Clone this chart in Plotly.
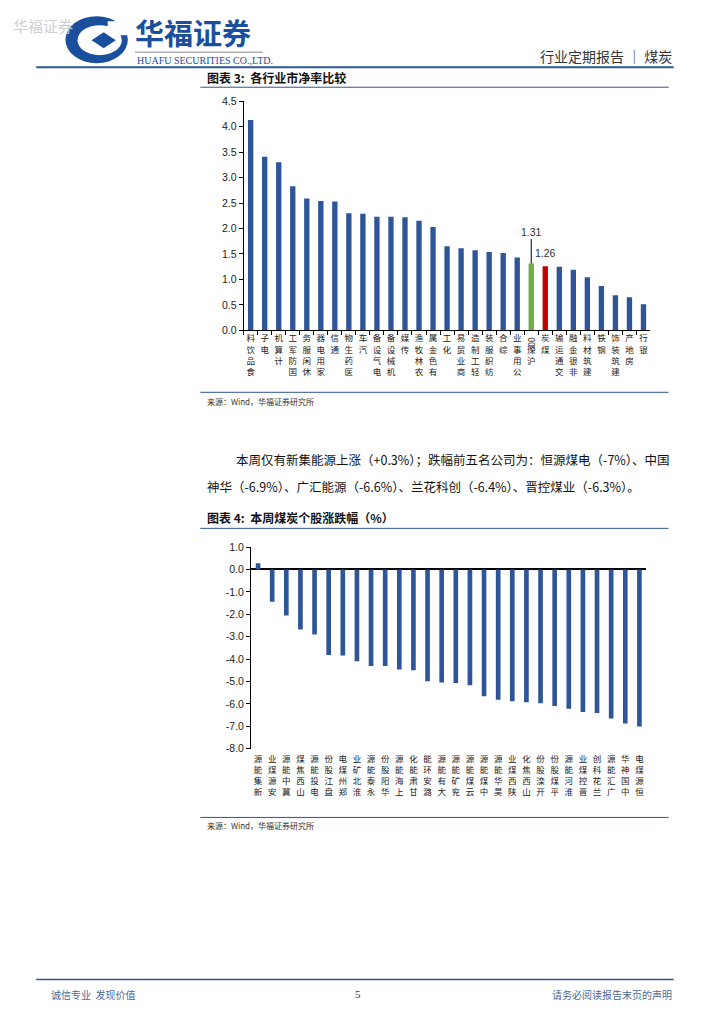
import plotly.graph_objects as go

# ---------------- data ----------------
industries = ["食品饮料", "电子", "计算机", "国防军工", "休闲服务", "家用电器", "通信", "医药生物",
              "汽车", "电气设备", "机械设备", "传媒", "农林牧渔", "有色金属", "化工", "商业贸易",
              "轻工制造", "纺织服装", "综合", "公用事业", "沪深300", "煤炭", "交通运输", "非银金融",
              "建筑材料", "钢铁", "建筑装饰", "房地产", "银行"]
pb_values = [4.13, 3.41, 3.30, 2.83, 2.59, 2.54, 2.53, 2.30, 2.29, 2.23, 2.23, 2.22, 2.15, 2.03,
             1.65, 1.61, 1.57, 1.54, 1.52, 1.43, 1.31, 1.26, 1.25, 1.19, 1.04, 0.87, 0.69, 0.65, 0.51]

stocks = ["新集能源", "安源煤业", "冀中能源", "山西焦煤", "电投能源", "盘江股份", "郑州煤电", "淮北矿业",
          "永泰能源", "华阳股份", "上海能源", "甘肃能化", "潞安环能", "大有能源", "兖矿能源", "云煤能源",
          "中煤能源", "昊华能源", "陕西煤业", "山西焦化", "开滦股份", "平煤股份", "淮河能源", "晋控煤业",
          "兰花科创", "广汇能源", "中国神华", "恒源煤电"]
chg_values = [0.28, -1.44, -2.06, -2.68, -2.90, -3.82, -3.84, -4.10, -4.31, -4.31, -4.46, -4.50,
              -4.99, -5.04, -5.07, -5.17, -5.66, -5.81, -5.88, -5.93, -5.97, -6.09, -6.22, -6.36,
              -6.41, -6.65, -6.87, -7.01]

y1_ticks = [0.0, 0.5, 1.0, 1.5, 2.0, 2.5, 3.0, 3.5, 4.0, 4.5]
y2_ticks = [1.0, 0.0, -1.0, -2.0, -3.0, -4.0, -5.0, -6.0, -7.0, -8.0]

hs300_name = "沪深300"
coal_name = "煤炭"

# ---------------- helpers ----------------
W, H = 724, 1024
# compensate for page offset / scaling observed in the rendered page
def px(x):
    return ((x - 9) / 0.993) / W
def py(y):
    return 1 - ((y - 14.8) / 0.988) / H

BLUE = "#2E5597"
CJK = "Noto Sans CJK SC"
LAT = "Liberation Sans, Arial"

def vertical(name):
    if name == hs300_name:
        return "\u3000<br>深<br>沪"
    return "<br>".join(list(name)[::-1])

colors1 = []
for n in industries:
    if n == hs300_name:
        colors1.append("#70AD47")
    elif n == coal_name:
        colors1.append("#C00000")
    else:
        colors1.append(BLUE)

fig = go.Figure()
fig.add_trace(go.Bar(x=industries, y=pb_values, marker=dict(color=colors1, line=dict(width=0)),
                     width=0.38, xaxis="x", yaxis="y", showlegend=False))
fig.add_trace(go.Bar(x=stocks, y=chg_values, marker=dict(color=BLUE, line=dict(width=0)),
                     width=0.33, xaxis="x2", yaxis="y2", showlegend=False))

fig.update_layout(
    width=W, height=H, margin=dict(l=0, r=0, t=0, b=0),
    paper_bgcolor="white", plot_bgcolor="white",
    font=dict(family=CJK, color="#222"),
    xaxis=dict(domain=[px(243), px(647)], anchor="y", type="category",
               range=[-0.5, len(industries) - 0.5],
               tickvals=industries, ticktext=[vertical(n) for n in industries],
               tickangle=0, tickfont=dict(family=CJK, size=8.5, color="#222"),
               showline=True, linecolor="#000", linewidth=1,
               ticks="outside", tickson="boundaries", ticklen=4, tickcolor="#000",
               showgrid=False, zeroline=False, fixedrange=True),
    yaxis=dict(domain=[py(331), py(102)], anchor="x", range=[0, 4.5],
               tickvals=y1_ticks, ticktext=[f"{v:.1f}" for v in y1_ticks],
               tickfont=dict(family=LAT, size=10.5, color="#222"),
               showline=True, linecolor="#000", linewidth=1,
               ticks="outside", ticklen=4, tickcolor="#000",
               showgrid=False, zeroline=False),
    xaxis2=dict(domain=[px(250.3), px(643)], anchor="y2", type="category",
                range=[-0.5, len(stocks) - 0.5],
                tickvals=stocks, ticktext=[vertical(n) for n in stocks],
                tickangle=0, tickfont=dict(family=CJK, size=8.5, color="#222"),
                ticklabelstandoff=4,
                showline=False, ticks="", showgrid=False, zeroline=False),
    yaxis2=dict(domain=[py(749.3), py(547.7)], anchor="x2", range=[-8, 1],
                tickvals=y2_ticks, ticktext=[f"{v:.1f}" for v in y2_ticks],
                tickfont=dict(family=LAT, size=10.5, color="#222"),
                showline=True, linecolor="#000", linewidth=1,
                ticks="outside", ticklen=4, tickcolor="#000",
                showgrid=False, zeroline=True, zerolinecolor="#000", zerolinewidth=1.5),
)

shapes = []
ann = []

# header line and section lines
shapes.append(dict(type="line", xref="paper", yref="paper", x0=px(37), x1=px(670), y0=py(68), y1=py(68),
                   line=dict(color=BLUE, width=2)))
for yy in [88, 393, 529, 818]:
    shapes.append(dict(type="line", xref="paper", yref="paper", x0=px(200), x1=px(665), y0=py(yy), y1=py(yy),
                       line=dict(color=BLUE, width=1)))
# footer line
shapes.append(dict(type="line", xref="paper", yref="paper", x0=px(37), x1=px(670), y0=py(980), y1=py(980),
                   line=dict(color=BLUE, width=1.5)))
# logo underline
shapes.append(dict(type="line", xref="paper", yref="paper", x0=px(135), x1=px(262), y0=py(53), y1=py(53),
                   line=dict(color="#8a8a8a", width=1)))

# watermark
ann.append(dict(text="华福证券", x=px(12), y=py(26), xref="paper", yref="paper", xanchor="left", yanchor="middle",
                showarrow=False, font=dict(family=CJK, size=15, color="#cfcfcf")))

# logo
shapes.append(dict(type="circle", xref="paper", yref="paper", x0=px(66), x1=px(128), y0=py(64), y1=py(17),
                   fillcolor="#1A4F9E", line=dict(width=0), layer="above"))
shapes.append(dict(type="circle", xref="paper", yref="paper", x0=px(78), x1=px(122), y0=py(56), y1=py(26),
                   fillcolor="white", line=dict(width=0), layer="above"))
shapes.append(dict(type="path", xref="paper", yref="paper", layer="above",
                   path=f"M {px(92)},{py(41)} L {px(104)},{py(33)} L {px(116)},{py(41)} L {px(104)},{py(49)} Z",
                   fillcolor="#1A4F9E", line=dict(width=0)))
shapes.append(dict(type="rect", xref="paper", yref="paper", x0=px(108), x1=px(128), y0=py(36), y1=py(22),
                   fillcolor="white", line=dict(width=0), layer="above"))

ann.append(dict(text="<b>华福证券</b>", x=px(133), y=py(33), xref="paper", yref="paper", xanchor="left",
                yanchor="middle", showarrow=False, font=dict(family=CJK, size=29, color="#1A4F9E")))
ann.append(dict(text="HUAFU SECURITIES CO.,LTD.", x=px(135), y=py(61), xref="paper", yref="paper",
                xanchor="left", yanchor="middle", showarrow=False,
                font=dict(family="Liberation Serif, serif", size=10, color="#1A4F9E")))
ann.append(dict(text="行业定期报告 ｜ 煤炭", x=px(670), y=py(57), xref="paper", yref="paper", xanchor="right",
                yanchor="middle", showarrow=False, font=dict(family=CJK, size=14, color="#333")))

# chart titles
ann.append(dict(text="<b>图表 3:  各行业市净率比较</b>", x=px(205), y=py(78), xref="paper", yref="paper",
                xanchor="left", yanchor="middle", showarrow=False, font=dict(family=CJK, size=12, color="#111")))
ann.append(dict(text="<b>图表 4:  本周煤炭个股涨跌幅（%）</b>", x=px(205), y=py(518), xref="paper", yref="paper",
                xanchor="left", yanchor="middle", showarrow=False, font=dict(family=CJK, size=12, color="#111")))

# sources
for yy in [402, 826]:
    ann.append(dict(text="来源：Wind，华福证券研究所", x=px(205), y=py(yy), xref="paper", yref="paper",
                    xanchor="left", yanchor="middle", showarrow=False, font=dict(family=CJK, size=8, color="#333")))

# paragraph
ann.append(dict(text="本周仅有新集能源上涨（+0.3%）；跌幅前五名公司为：恒源煤电（-7%）、中国",
                x=px(233), y=py(460), xref="paper", yref="paper", xanchor="left", yanchor="middle",
                showarrow=False, font=dict(family=CJK, size=12.5, color="#111")))
ann.append(dict(text="神华（-6.9%）、广汇能源（-6.6%）、兰花科创（-6.4%）、晋控煤业（-6.3%）。",
                x=px(205), y=py(487), xref="paper", yref="paper", xanchor="left", yanchor="middle",
                showarrow=False, font=dict(family=CJK, size=12.5, color="#111")))

# 300 rotated part of HS300 label
ann.append(dict(text="300", x=hs300_name, xref="x", y=py(345), yref="paper", textangle=-90,
                showarrow=False, font=dict(family=CJK, size=8.5, color="#222"), xanchor="center", yanchor="middle"))

# value labels
hs_val = pb_values[industries.index(hs300_name)]
coal_val = pb_values[industries.index(coal_name)]
ann.append(dict(text=f"{hs_val:.2f}", x=hs300_name, y=hs_val, xref="x", yref="y", showarrow=True,
                arrowhead=0, arrowwidth=1, arrowcolor="#000", ax=0, ay=-32, standoff=0,
                font=dict(family=LAT, size=10.5, color="#333")))
ann.append(dict(text=f"{coal_val:.2f}", x=coal_name, y=coal_val, xref="x", yref="y", showarrow=False,
                yshift=13, font=dict(family=LAT, size=10.5, color="#333")))

# footer
ann.append(dict(text="诚信专业  发现价值", x=px(50), y=py(995), xref="paper", yref="paper", xanchor="left",
                yanchor="middle", showarrow=False, font=dict(family=CJK, size=10, color="#4A6A9A")))
ann.append(dict(text="5", x=px(357), y=py(995), xref="paper", yref="paper", xanchor="center",
                yanchor="middle", showarrow=False, font=dict(family="Liberation Serif", size=11, color="#333")))
ann.append(dict(text="请务必阅读报告末页的声明", x=px(670), y=py(995), xref="paper", yref="paper", xanchor="right",
                yanchor="middle", showarrow=False, font=dict(family=CJK, size=10, color="#4A6A9A")))

fig.update_layout(shapes=shapes, annotations=ann)
fig.write_html("out.html")
